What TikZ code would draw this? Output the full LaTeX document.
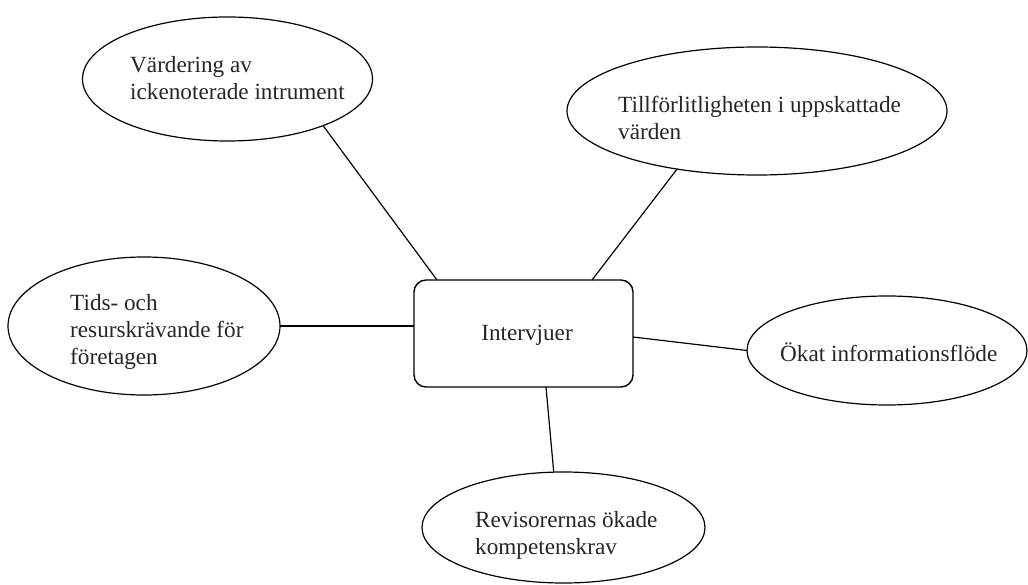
\documentclass[tikz,border=0pt]{standalone}
\usepackage{fontspec}
\setmainfont{Liberation Serif}
\usetikzlibrary{shapes.geometric}
\begin{document}
\begin{tikzpicture}[x=1pt,y=-1pt,
  oval/.style={draw, ellipse, line width=1.2pt, inner sep=0pt, outer sep=0pt},
  hub/.style={draw, rectangle, rounded corners=12pt, line width=1.4pt, inner sep=0pt, outer sep=0pt},
  txt/.style={font=\fontsize{23.2}{27}\selectfont, align=left, inner sep=0pt, anchor=west, text=black!85},
  link/.style={line width=1.2pt}]
\useasboundingbox (0,0) rectangle (1028,585);
% ellipses
\node[oval, minimum width=290pt, minimum height=124pt] (e1) at (227.5,79) {};
\node[oval, minimum width=380pt, minimum height=128pt] (e2) at (757,111) {};
\node[oval, minimum width=272pt, minimum height=138pt] (e3) at (144,326) {};
\node[oval, minimum width=280pt, minimum height=109pt] (e4) at (887,350.5) {};
\node[oval, minimum width=283pt, minimum height=111pt] (e5) at (563.5,527.5) {};
% hub
\node[hub, minimum width=219pt, minimum height=107pt] (r) at (523.5,333.5) {};
% texts
\node[txt] (t1) at (130,78.5) {Värdering av\\ickenoterade intrument};
\node[txt] (t2) at (618,117.5) {Tillförlitligheten i uppskattade\\värden};
\node[txt] (t3) at (70,332) {Tids- och\\resurskrävande för\\företagen};
\node[txt] (t4) at (780,352) {Ökat informationsflöde};
\node[txt] (t5) at (475,535.5) {Revisorernas ökade\\kompetenskrav};
\node[txt, anchor=center] (t6) at (527,335) {Intervjuer};
% connectors
\draw[link] (e1.-26) -- ([xshift=23pt]r.north west);
\draw[link] (e2.216.6) -- ([xshift=-41pt]r.north east);
\draw[link] (e3.east) -- (e3.east -| r.west);
\draw[link] ([yshift=-3.5pt]r.east) -- (e4.west);
\draw[link] ([xshift=22.5pt]r.south) -- (e5.100.7);
\end{tikzpicture}
\end{document}
